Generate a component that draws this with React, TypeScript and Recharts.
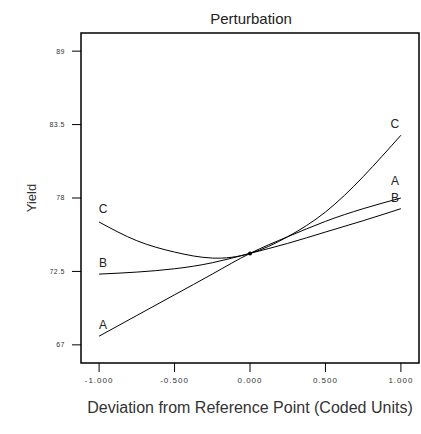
import React from 'react';
import { LineChart, Line, XAxis, YAxis, ReferenceArea } from 'recharts';

// coded deviation from the reference point
const xValues = [-1, -0.75, -0.5, -0.25, 0, 0.25, 0.5, 0.75, 1];

// yield for each factor
const seriesA = [67.65, 69.2, 70.75, 72.3, 73.85, 75.1, 76.25, 77.2, 78.0];
const seriesB = [72.3, 72.45, 72.7, 73.15, 73.85, 74.6, 75.45, 76.3, 77.2];
const seriesC = [76.2, 74.8, 73.95, 73.5, 73.85, 75.1, 76.95, 79.6, 82.7];

const xTicks = [-1, -0.5, 0, 0.5, 1];
const yTicks = [67, 72.5, 78, 83.5, 89];
const xDomain = [-1.12, 1.12];
const yDomain = [65.64, 90.36];

const data = xValues.map((x, i) => ({ x, A: seriesA[i], B: seriesB[i], C: seriesC[i] }));

const FONT = '"Liberation Sans", Arial, sans-serif';

// where the letter sits relative to the curve ends
const labelOffsets: Record<string, { start: number[]; end: number[] }> = {
    A: { start: [4, -11], end: [-6, -17] },
    B: { start: [4, -11], end: [-6, -11] },
    C: { start: [4, -13], end: [-6, -11] },
};

const curveLabel = (key: string) => (props: any) => {
    const { x, y, index } = props;
    if (index !== 0 && index !== xValues.length - 1) return <g key={`l-${key}-${index}`} />;
    const off = index === 0 ? labelOffsets[key].start : labelOffsets[key].end;
    return (
        <text key={`l-${key}-${index}`} x={x + off[0]} y={y + off[1]} textAnchor="middle"
            dominantBaseline="central" fontSize={12} fill="#222" fontFamily={FONT}>
            {key}
        </text>
    );
};

const centerDot = (props: any) => {
    const { cx, cy, index } = props;
    if (index !== 4) return <g key={`d-${index}`} />;
    return <circle key={`d-${index}`} cx={cx} cy={cy} r={2} fill="#000" />;
};

export default function App() {
    return (
        <div style={{ position: 'absolute', left: 0, top: 0, width: 421, height: 434, background: '#fff', fontFamily: FONT }}>
            <div style={{ position: 'absolute', left: 151, top: 11, width: 200, textAlign: 'center', fontSize: 15, lineHeight: '15px', color: '#222' }}>
                Perturbation
            </div>
            <LineChart width={421} height={434} data={data} margin={{ top: 33, right: 2, bottom: 0, left: 0 }}>
                <XAxis dataKey="x" type="number" domain={xDomain} ticks={xTicks} allowDataOverflow
                    tickFormatter={(v: number) => v.toFixed(3)} height={71} tickSize={9} tickMargin={5}
                    axisLine={false} tickLine={{ stroke: '#000' }}
                    tick={{ fontSize: 8, fill: '#333', letterSpacing: 1 }}
                    label={{ value: 'Deviation from Reference Point (Coded Units)', position: 'insideBottom', offset: 21, fontSize: 16, fill: '#333' }} />
                <YAxis type="number" domain={yDomain} ticks={yTicks} allowDataOverflow width={81}
                    tickSize={9} tickMargin={7} axisLine={false} tickLine={{ stroke: '#000' }}
                    tick={{ fontSize: 7, fill: '#333', letterSpacing: 0.5 }}
                    label={{ value: 'Yield', angle: -90, position: 'insideLeft', offset: 31, fontSize: 13, fill: '#333', style: { textAnchor: 'middle' } }} />
                <ReferenceArea x1={xDomain[0]} x2={xDomain[1]} y1={yDomain[0]} y2={yDomain[1]}
                    fill="none" fillOpacity={0} stroke="#000" strokeWidth={1.5} />
                <Line dataKey="A" type="natural" stroke="#000" strokeWidth={1} dot={centerDot}
                    label={curveLabel('A')} isAnimationActive={false} />
                <Line dataKey="B" type="natural" stroke="#000" strokeWidth={1} dot={false}
                    label={curveLabel('B')} isAnimationActive={false} />
                <Line dataKey="C" type="natural" stroke="#000" strokeWidth={1} dot={false}
                    label={curveLabel('C')} isAnimationActive={false} />
            </LineChart>
        </div>
    );
}
